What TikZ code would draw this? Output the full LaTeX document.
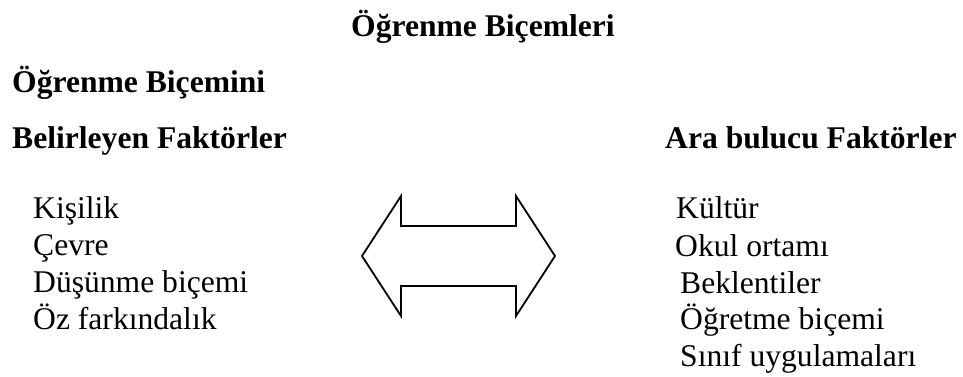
\documentclass[tikz,border=0pt]{standalone}
\usepackage{fontspec}
\setmainfont{Liberation Serif}
\usepackage{tikz}
\usetikzlibrary{positioning}

\begin{document}
\begin{tikzpicture}[
  x=1pt, y=-1pt,
  head/.style={anchor=base west, inner sep=0pt, font=\fontsize{31.6}{36}\selectfont\bfseries},
  item/.style={anchor=base west, inner sep=0pt, font=\fontsize{31.6}{36}\selectfont},
  bigarrow/.style={draw=black, line width=1.8pt, line join=miter}]
\useasboundingbox (0,0) rectangle (963,376);
\node[head] (title) at (351,36) {Öğrenme Biçemleri};
\node[head] (left1) at (12,92) {Öğrenme Biçemini};
\node[head] (left2) at (12,148) {Belirleyen Faktörler};
\node[head] (right) at (665,148) {Ara bulucu Faktörler};
% determining factors
\node[item] (kisilik) at (33,218) {Kişilik};
\node[item] (cevre) at (33,255) {Çevre};
\node[item] (dusunme) at (33,292) {Düşünme biçemi};
\node[item] (oz) at (33,329) {Öz farkındalık};
% mediating factors
\node[item] (kultur) at (676,218) {Kültür};
\node[item] (okul) at (675,256) {Okul ortamı};
\node[item] (beklenti) at (680,293) {Beklentiler};
\node[item] (ogretme) at (680,329) {Öğretme biçemi};
\node[item] (sinif) at (680,366) {Sınıf uygulamaları};
% double block arrow
\coordinate (ltip) at (362,256);
\coordinate (rtip) at (555,256);
\draw[bigarrow] (ltip) -- (401,196) -- (401,226) -- (516,226) -- (516,196)
  -- (rtip) -- (516,316) -- (516,286) -- (401,286) -- (401,316) -- cycle;
\end{tikzpicture}
\end{document}
